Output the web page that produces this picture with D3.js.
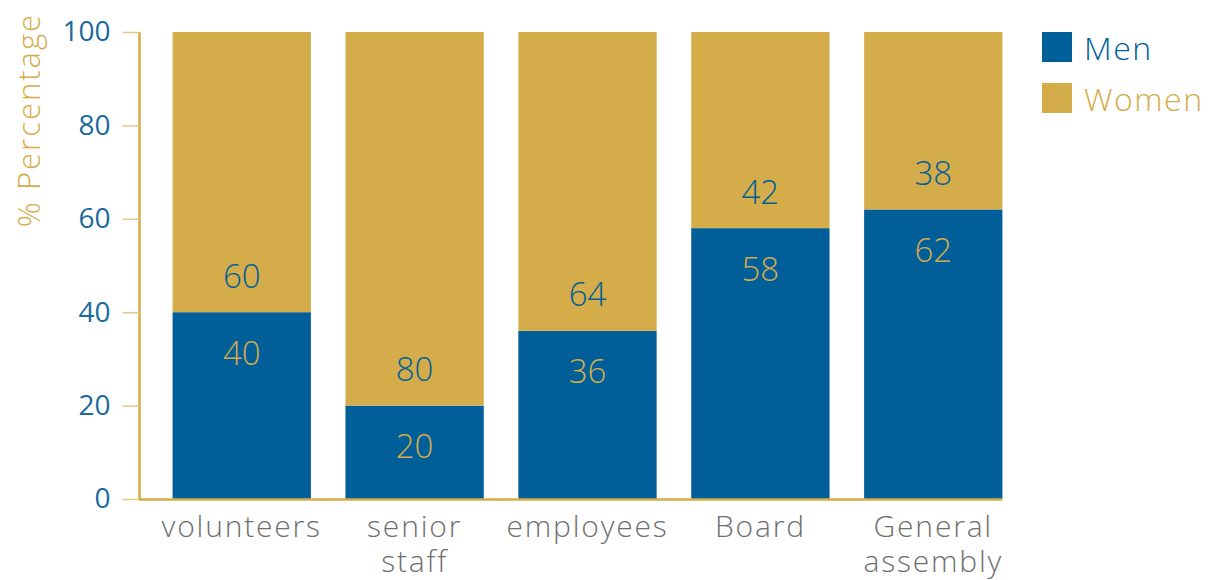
<!DOCTYPE html>
<html>
<head>
<meta charset="utf-8">
<script src="https://cdn.jsdelivr.net/npm/d3@7"></script>
<style>
  html, body { margin: 0; padding: 0; background: #fff; }
  svg { display: block; font-family: "Open Sans", Lato, sans-serif; }
</style>
</head>
<body>
<svg id="chart" width="1222" height="580"></svg>
<script>
// Share of men and women by group (%)
const categories = [["volunteers"], ["senior", "staff"], ["employees"], ["Board"], ["General", "assembly"]];
const men   = [40, 20, 36, 58, 62];
const women = [60, 80, 64, 42, 38];
const yTicks = [0, 20, 40, 60, 80, 100];
const seriesNames = ["Men", "Women"];

const BLUE = "#005f99";
const GOLD = "#d5ac4a";
const GREY = "#6f6f6f";
const TICK_BLUE = "#1a6a9e";

const svg = d3.select("#chart");
const keys = categories.map(c => c.join(" "));

const x = d3.scaleBand().domain(keys).range([138, 1037]).padding(0.2);
const y = d3.scaleLinear().domain([0, 100]).range([499, 32]);

const rows = keys.map((k, i) => ({ key: k, Men: men[i], Women: women[i] }));
const stack = d3.stack().keys(seriesNames)(rows);
const color = d3.scaleOrdinal().domain(seriesNames).range([BLUE, GOLD]);

// stacked bars
svg.append("g").selectAll("g").data(stack).join("g")
  .attr("fill", d => color(d.key))
  .selectAll("rect").data(d => d).join("rect")
  .attr("x", d => x(d.data.key))
  .attr("width", x.bandwidth())
  .attr("y", d => y(d[1]))
  .attr("height", d => y(d[0]) - y(d[1]));

// y axis
const yAxis = svg.append("g").attr("transform", "translate(139.5,0)")
  .call(d3.axisLeft(y).tickValues(yTicks).tickSize(17).tickPadding(12));
yAxis.select(".domain").attr("stroke", GOLD).attr("stroke-width", 2.5).attr("d", `M0,${y(100)}V${y(0)}`);
yAxis.selectAll(".tick line").attr("stroke", "#e2c887").attr("stroke-width", 1.5);
yAxis.selectAll(".tick text").attr("fill", TICK_BLUE).attr("font-size", 28).attr("font-weight", 400)
  .attr("font-family", "'Open Sans', sans-serif");

// baseline
svg.append("line")
  .attr("x1", 139).attr("x2", x(keys[keys.length - 1]) + x.bandwidth())
  .attr("y1", y(0) + 0.5).attr("y2", y(0) + 0.5)
  .attr("stroke", GOLD).attr("stroke-width", 2.5);

// category labels, one text per line
const catLines = categories.flatMap((lines, i) =>
  lines.map((t, j) => ({ t, j, cx: x(keys[i]) + x.bandwidth() / 2 })));
svg.append("g").selectAll("text").data(catLines).join("text")
  .attr("x", d => d.cx)
  .attr("y", d => 537 + d.j * 35)
  .attr("text-anchor", "middle")
  .attr("fill", GREY)
  .attr("font-size", 30)
  .attr("font-weight", 300)
  .attr("letter-spacing", 1.8)
  .text(d => d.t);

// value labels around the men/women boundary
const lbl = svg.append("g").attr("font-size", 33).attr("font-weight", 300).attr("text-anchor", "middle");
lbl.selectAll(".m").data(rows).join("text").attr("class", "m")
  .attr("x", d => x(d.key) + x.bandwidth() / 2)
  .attr("y", d => y(d.Men) + 41)
  .attr("dy", "0.35em")
  .attr("fill", GOLD)
  .text(d => d.Men);
lbl.selectAll(".w").data(rows).join("text").attr("class", "w")
  .attr("x", d => x(d.key) + x.bandwidth() / 2)
  .attr("y", d => y(d.Men) - 36)
  .attr("dy", "0.35em")
  .attr("fill", BLUE)
  .text(d => d.Women);

// y title
svg.append("text")
  .attr("transform", "translate(40,120) rotate(-90)")
  .attr("text-anchor", "middle")
  .attr("fill", GOLD)
  .attr("font-size", 31)
  .attr("font-weight", 300)
  .attr("letter-spacing", 2)
  .text("% Percentage");

// legend
const leg = svg.append("g").selectAll("g").data(seriesNames).join("g")
  .attr("transform", (d, i) => `translate(1042,${32 + i * 51})`);
leg.append("rect").attr("width", 30).attr("height", 30).attr("fill", d => color(d));
leg.append("text").attr("x", 42).attr("y", 17).attr("dy", "0.35em")
  .attr("font-size", 32).attr("font-weight", 300).attr("letter-spacing", 1.5)
  .attr("fill", d => color(d))
  .text(d => d);
</script>
</body>
</html>
